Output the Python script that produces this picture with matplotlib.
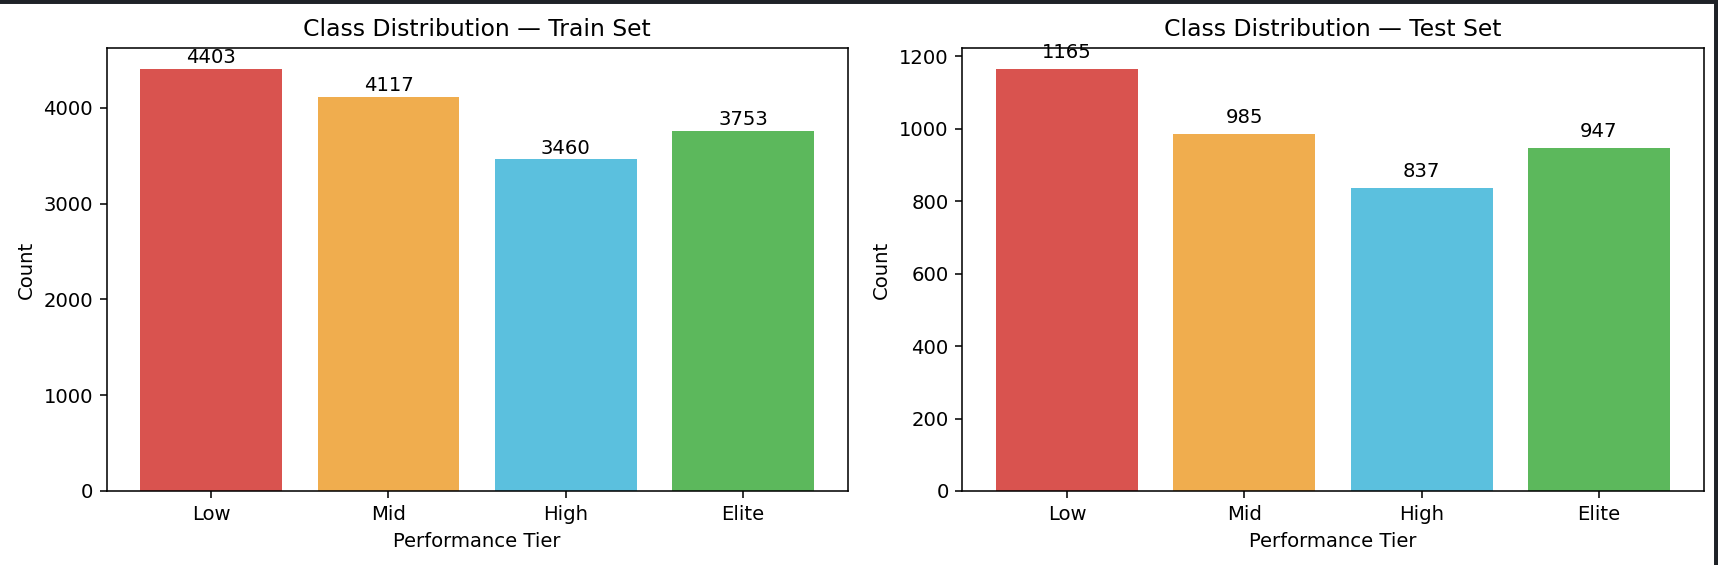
import matplotlib.pyplot as plt
from matplotlib.patches import Rectangle

tiers = ["Low", "Mid", "High", "Elite"]
train_counts = [4403, 4117, 3460, 3753]
test_counts = [1165, 985, 837, 947]
colors = ["#d9534f", "#f0ad4e", "#5bc0de", "#5cb85c"]

fig, axes = plt.subplots(1, 2, figsize=(12.2, 4.01), dpi=1719 / 12.2)
fig.subplots_adjust(left=0.062, right=0.991, bottom=0.131, top=0.915, wspace=0.155)

for ax, counts, name in zip(axes, [train_counts, test_counts], ["Train", "Test"]):
    ax.bar(tiers, counts, color=colors)
    for i, v in enumerate(counts):
        ax.text(i, v + 20, str(v), ha="center", va="bottom", fontsize=10)
    ax.set_title(f"Class Distribution \u2014 {name} Set", fontsize=12)
    ax.set_xlabel("Performance Tier")
    ax.set_ylabel("Count")

# dark notebook border from the screenshot
fig.patches.append(Rectangle((0, 1 - 3 / 565), 1, 3 / 565, transform=fig.transFigure,
                             color="#1e2227", zorder=10))
fig.patches.append(Rectangle((1 - 4 / 1719, 0), 4 / 1719, 1, transform=fig.transFigure,
                             color="#1e2227", zorder=10))

fig.savefig("out.png")
